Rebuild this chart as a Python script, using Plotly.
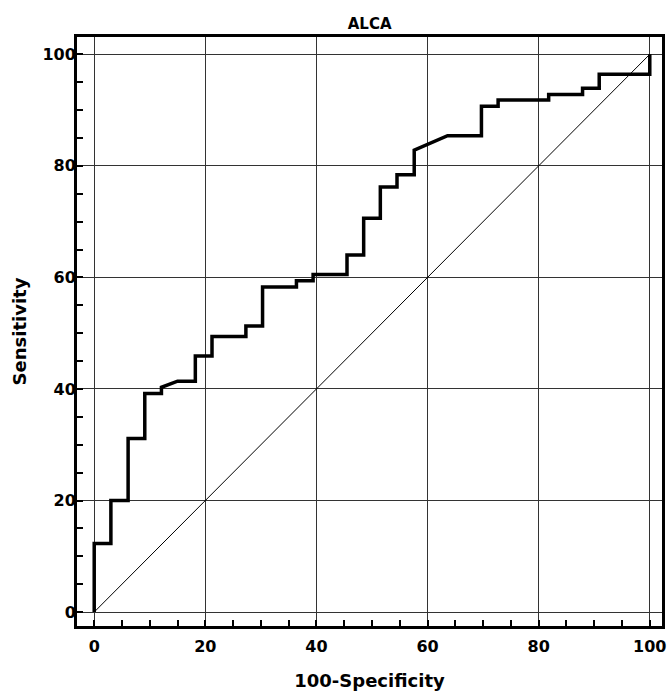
import plotly.graph_objects as go

# ROC curve vertices (100-Specificity, Sensitivity)
roc_x = [0, 0, 3.0, 3.0, 6.1, 6.1, 9.1, 9.1, 12.1, 12.1, 15.0, 18.2, 18.2, 21.2, 21.2,
         27.3, 27.3, 30.3, 30.3, 36.4, 36.4, 39.4, 39.4, 45.5, 45.5, 48.5, 48.5,
         51.5, 51.5, 54.5, 54.5, 57.6, 57.6, 63.6, 69.7, 69.7, 72.7, 72.7, 81.8, 81.8,
         87.9, 87.9, 90.9, 90.9, 100, 100]
roc_y = [0, 12.3, 12.3, 20.0, 20.0, 31.1, 31.1, 39.2, 39.2, 40.3, 41.4, 41.4, 45.9, 45.9, 49.4,
         49.4, 51.3, 51.3, 58.3, 58.3, 59.4, 59.4, 60.5, 60.5, 64.0, 64.0, 70.6,
         70.6, 76.2, 76.2, 78.4, 78.4, 82.8, 85.4, 85.4, 90.7, 90.7, 91.8, 91.8, 92.8, 92.8,
         93.9, 93.9, 96.4, 96.4, 100]
diag_x = [0, 100]
diag_y = [0, 100]
tick_vals = [0, 20, 40, 60, 80, 100]
tick_text = ["0", "20", "40", "60", "80", "100"]

title_text = "ALCA"
x_title = "100-Specificity"
y_title = "Sensitivity"

FONT = "DejaVu Sans, sans-serif"

fig = go.Figure()
fig.add_trace(go.Scatter(x=diag_x, y=diag_y, mode="lines",
                         line=dict(color="black", width=1), showlegend=False, hoverinfo="skip"))
fig.add_trace(go.Scatter(x=roc_x, y=roc_y, mode="lines",
                         line=dict(color="black", width=3.5), showlegend=False))

axis_common = dict(
    tickvals=tick_vals, ticktext=tick_text, automargin=False,
    showgrid=True, gridcolor="#333333", gridwidth=1,
    zeroline=False,
    showline=True, linecolor="black", linewidth=3, mirror=True,
    ticks="inside", ticklen=6, tickwidth=2, tickcolor="black",
    minor=dict(dtick=5, tick0=0, ticks="inside", ticklen=6, tickwidth=2,
               tickcolor="black", showgrid=False),
    tickfont=dict(family=FONT, size=16, color="black", weight="bold"),
)

fig.update_layout(
    width=670, height=693,
    margin=dict(l=77, r=8, t=37, b=67),
    paper_bgcolor="white", plot_bgcolor="white",
    title=dict(text=title_text, x=0.5517, xanchor="center", y=0.966, yanchor="middle",
               font=dict(family=FONT, size=15, color="black", weight="bold")),
    xaxis=dict(range=[-3.1, 102.2], ticklabelstandoff=4,
               title=dict(text=x_title, standoff=20,
                          font=dict(family=FONT, size=18, color="black", weight="bold")),
               **axis_common),
    yaxis=dict(range=[-2.5, 103.1], ticklabelstandoff=-5,
               title=dict(text=y_title, standoff=12,
                          font=dict(family=FONT, size=18, color="black", weight="bold")),
               **axis_common),
)

fig.write_html("out.html")
